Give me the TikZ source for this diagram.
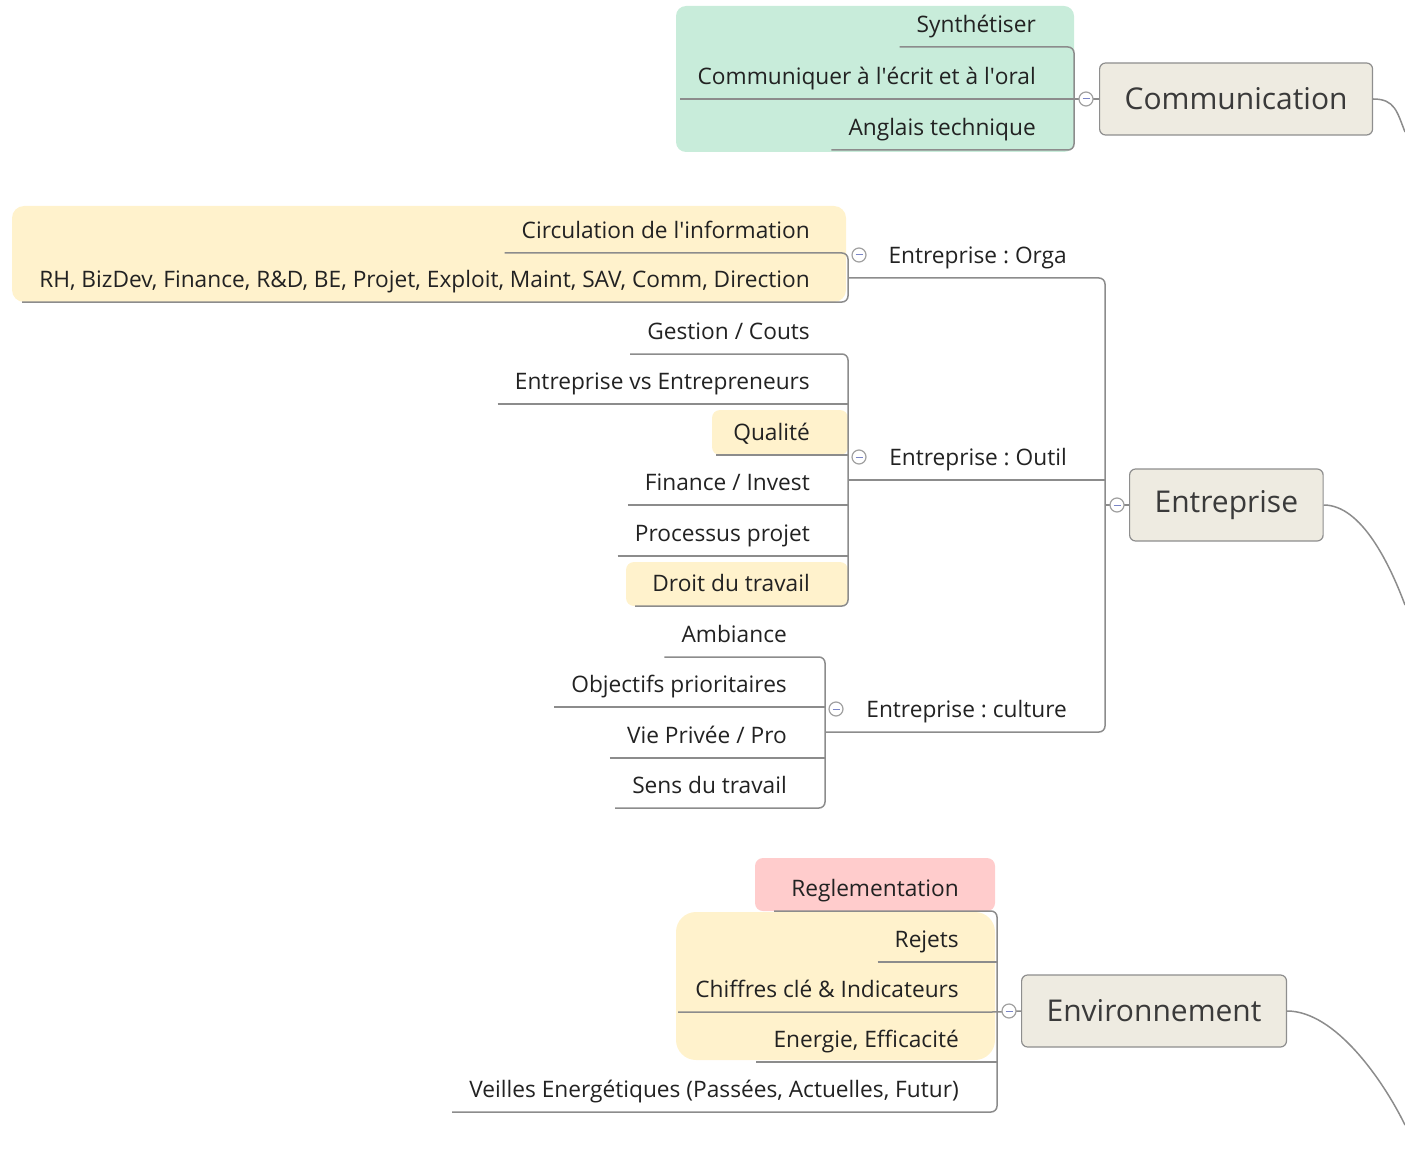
\documentclass[tikz,border=0pt]{standalone}
\usepackage{fontspec}
\setmainfont{Open Sans}
\usepackage{xcolor}
\usetikzlibrary{positioning,calc}
\definecolor{mint}{HTML}{C8ECDA}
\definecolor{butter}{HTML}{FFF2CC}
\definecolor{blush}{HTML}{FFCCCC}
\definecolor{topicfill}{HTML}{EEEBE1}
\definecolor{topicline}{HTML}{8E8E8E}
\definecolor{linegray}{HTML}{8C8C8C}
\definecolor{foldgray}{HTML}{A0A0A0}
\definecolor{foldblue}{HTML}{7B86C6}
\definecolor{leaftext}{HTML}{222222}
\definecolor{topictext}{HTML}{3A3A3A}
\newcommand{\leaffont}{\fontsize{22.7}{27}\selectfont}
\newcommand{\topicfont}{\fontsize{30}{36}\selectfont}
\frenchspacing

\begin{document}
\begin{tikzpicture}[x=1pt, y=-1pt,
			branch/.style={draw=linegray, line width=1.5pt, rounded corners=6pt},
			leaf/.style={font=\leaffont, text=leaftext, anchor=south east, inner xsep=17pt, inner ysep=8.5pt, text height=17pt, text depth=5.5pt},
			topic/.style={draw=topicline, fill=topicfill, line width=1.2pt, rounded corners=6pt, font=\topicfont, text=topictext, inner xsep=25pt, minimum height=72pt, anchor=west},
			fold/.style={circle, draw=foldgray, fill=white, line width=1.2pt, minimum size=14pt, inner sep=0pt,
				path picture={\draw[foldblue, line width=1pt] ([xshift=-3.5pt]path picture bounding box.center) -- ([xshift=3.5pt]path picture bounding box.center);}}]
		\useasboundingbox (0,0) rectangle (1405,1150);

		% coloured groups
		\fill[mint, rounded corners=10pt] (676,6) rectangle (1074,152);
		\fill[butter, rounded corners=12pt] (12,206) rectangle (846,302);
		\fill[butter, rounded corners=8pt] (712,410) rectangle (848,455);
		\fill[butter, rounded corners=8pt] (626,562) rectangle (848,606);
		\fill[blush, rounded corners=8pt] (755,858) rectangle (995,911);
		\fill[butter, rounded corners=20pt] (676,912) rectangle (995,1060);

		% main topics
		\node[topic] (com) at (1099,99) {Communication};
		\node[topic] (ent) at (1129,505) {Entreprise};
		\node[topic] (env) at (1021,1011) {Environnement};

		% brackets
		\coordinate (comBr) at (1074,99);
		\coordinate (entBr) at (1105,505);
		\coordinate (orgaBr) at (848,278);
		\coordinate (outilBr) at (848,480);
		\coordinate (cultBr) at (825,732);
		\coordinate (envBr) at (997,1011);

		% Communication
		\node[leaf] (synth) at (1053,47) {Synthétiser};
		\node[leaf] (ecrit) at (1053,99) {Communiquer à l\textquotesingle écrit et à l\textquotesingle oral};
		\node[leaf] (angl) at (1053,150) {Anglais technique};

		% Entreprise
		\node[leaf] (orga) at (1084,278) {Entreprise : Orga};
		\node[leaf] (outil) at (1084,480) {Entreprise : Outil};
		\node[leaf] (cult) at (1084,732) {Entreprise : culture};

		\node[leaf] (circ) at (827,253) {Circulation de l\textquotesingle information};
		\node[leaf] (serv) at (827,302) {RH, BizDev, Finance, R\&D, BE, Projet, Exploit, Maint, SAV, Comm, Direction};

		\node[leaf] (gest) at (827,354) {Gestion / Couts};
		\node[leaf] (evs) at (827,404) {Entreprise vs Entrepreneurs};
		\node[leaf] (qual) at (827,455) {Qualité};
		\node[leaf] (fin) at (827,505) {Finance / Invest};
		\node[leaf] (proc) at (827,556) {Processus projet};
		\node[leaf] (droit) at (827,606) {Droit du travail};

		\node[leaf] (amb) at (804,657) {Ambiance};
		\node[leaf] (obj) at (804,707) {Objectifs prioritaires};
		\node[leaf] (vie) at (804,758) {Vie Privée / Pro};
		\node[leaf] (sens) at (804,808) {Sens du travail};

		% Environnement
		\node[leaf] (regl) at (976,911) {Reglementation};
		\node[leaf] (rej) at (976,962) {Rejets};
		\node[leaf] (chif) at (976,1012) {Chiffres clé \& Indicateurs};
		\node[leaf] (ener) at (976,1062) {Energie, Efficacité};
		\node[leaf] (veil) at (976,1112) {Veilles Energétiques (Passées, Actuelles, Futur)};

		% connectors
		\draw[branch] (synth.south west) -- (synth.south -| comBr) -- (angl.south -| comBr) -- (angl.south west);
		\draw[branch] (ecrit.south west) -- (comBr) -- (com.west);

		\draw[branch] (orgaBr) -- (orga.south -| entBr) -- (cult.south -| entBr) -- (cultBr);
		\draw[branch] (outilBr) -- (outil.south -| entBr);
		\draw[branch] (entBr) -- (ent.west);

		\draw[branch] (circ.south west) -- (circ.south -| orgaBr) -- (serv.south -| orgaBr) -- (serv.south west);
		\draw[branch] (gest.south west) -- (gest.south -| outilBr) -- (droit.south -| outilBr) -- (droit.south west);
		\foreach \n in {evs,qual,fin,proc}
			\draw[branch] (\n.south west) -- (\n.south -| outilBr);
		\draw[branch] (amb.south west) -- (amb.south -| cultBr) -- (sens.south -| cultBr) -- (sens.south west);
		\foreach \n in {obj,vie}
			\draw[branch] (\n.south west) -- (\n.south -| cultBr);

		\draw[branch] (regl.south west) -- (regl.south -| envBr) -- (veil.south -| envBr) -- (veil.south west);
		\foreach \n in {rej,ener}
			\draw[branch] (\n.south west) -- (\n.south -| envBr);
		\draw[branch] (chif.south west) -- (chif.south -| envBr) -- (env.west);

		% links to the central topic, off the page
		\coordinate (comOut) at (1405,132);
		\coordinate (entOut) at (1405,605);
		\coordinate (envOut) at (1405,1125);
		\draw[branch] (com.east) .. controls +(22,0) and +(-8,-20) .. (comOut);
		\draw[branch] (ent.east) .. controls +(38,0) and +(-15,-40) .. (entOut);
		\draw[branch] (env.east) .. controls +(48,0) and +(-22,-45) .. (envOut);

		% fold markers
		\node[fold] (comF) at (1086,99) {};
		\node[fold] (entF) at (1117,505) {};
		\node[fold] (envF) at (1009,1011) {};
		\node[fold] (orgaF) at (859,255) {};
		\node[fold] (outilF) at (859,457) {};
		\node[fold] (cultF) at (836,709) {};
\end{tikzpicture}
\end{document}
